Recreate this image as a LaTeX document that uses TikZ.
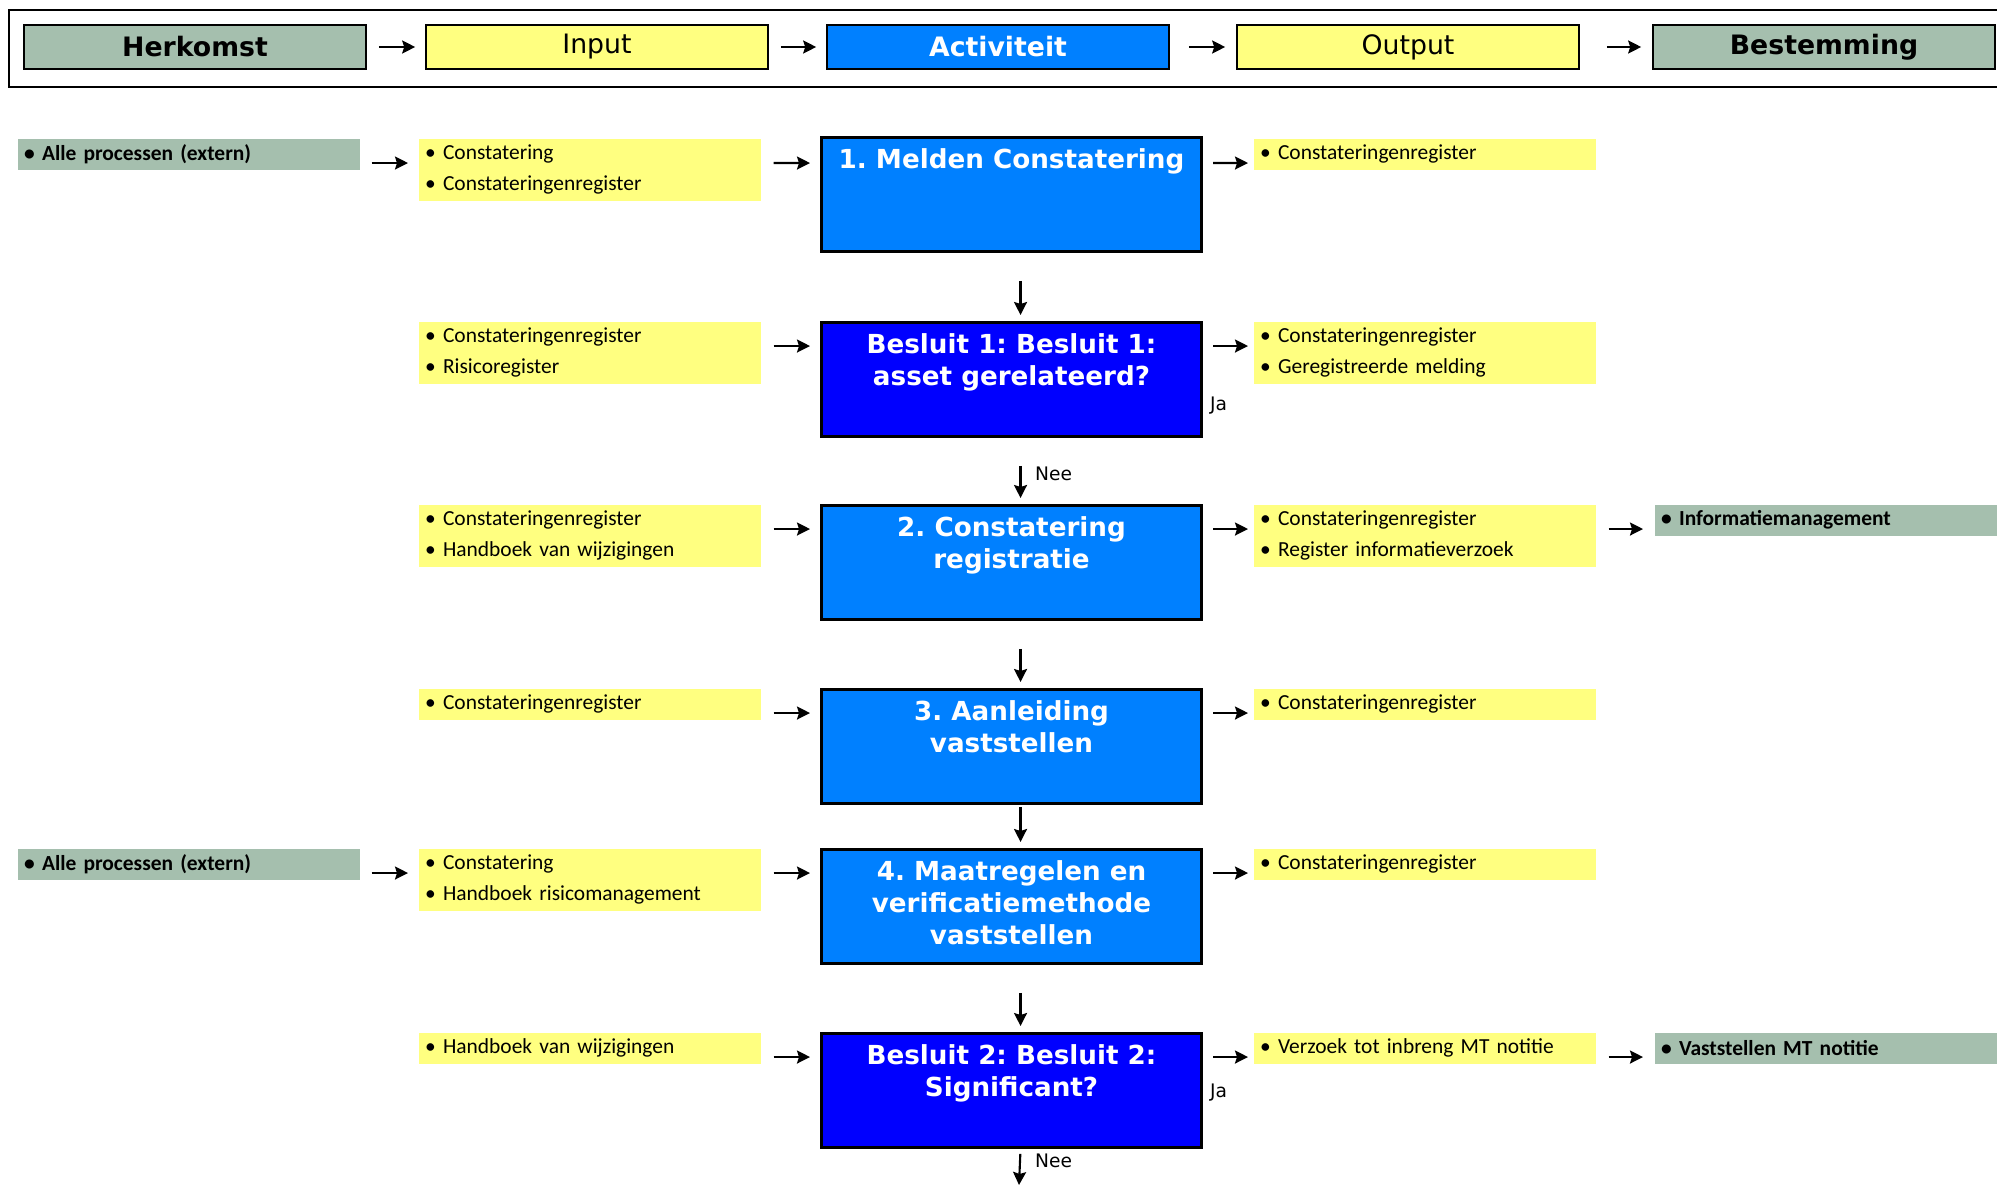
\documentclass[tikz,border=0pt]{standalone}
\usepackage{fontspec}
\setmainfont{DejaVu Sans}
\newfontfamily\carlito{Carlito}
\usetikzlibrary{arrows.meta}

\definecolor{grijs}{HTML}{A5BFAE}
\definecolor{geel}{HTML}{FFFF80}
\definecolor{lichtblauw}{HTML}{0080FF}
\definecolor{donkerblauw}{HTML}{0000FF}

\frenchspacing

\begin{document}
\begin{tikzpicture}[x=0.01cm, y=-0.01cm,
        flow/.style={-{Stealth[length=1.3mm, width=1.3mm, inset=0.2mm]}, line width=0.6pt},
        down/.style={flow, shorten <=0.28cm, shorten >=0.06cm},
        head/.style={draw=black, line width=0.4pt, minimum width=3.42cm, minimum height=0.44cm, inner sep=0pt, font=\fontsize{7.6}{9}\selectfont},
        headbold/.style={head, font=\bfseries\fontsize{7.6}{9}\selectfont},
        doc/.style={fill=geel, anchor=north west, minimum height=0.31cm, text width=3.29cm, inner xsep=0.065cm, inner ysep=0pt, align=left, font=\carlito\fontsize{6.1}{8.7}\selectfont},
        docbold/.style={doc, fill=grijs, font=\carlito\bfseries\fontsize{6.1}{8.7}\selectfont},
        act/.style={draw=black, line width=0.8pt, anchor=north west, minimum width=3.8cm, minimum height=1.14cm, inner sep=0pt},
        acttxt/.style={anchor=north, inner sep=3.5pt, align=center, text=white, font=\bfseries\fontsize{7.45}{9.1}\selectfont},
        tag/.style={inner sep=1pt, font=\fontsize{5.3}{6}\selectfont}]
    \useasboundingbox (0,0) rectangle (1997,1185);

    % kopregel
    \draw[line width=0.4pt] (1997,10) -- (9,10) -- (9,87) -- (1997,87);
    \node[headbold, fill=grijs] (hHerkomst) at (195,47) {Herkomst};
    \node[head, fill=geel] (hInput) at (597,47) {Input};
    \node[headbold, fill=lichtblauw, text=white] (hActiviteit) at (998,47) {Activiteit};
    \node[head, fill=geel] (hOutput) at (1408,47) {Output};
    \node[headbold, fill=grijs] (hBestemming) at (1824,47) {Bestemming};
    \path[flow]
        (hHerkomst) edge[shorten <=0.12cm, shorten >=0.1cm] (hInput)
        (hInput) edge[shorten <=0.12cm, shorten >=0.1cm] (hActiviteit)
        (hActiviteit) edge[shorten <=0.19cm, shorten >=0.11cm] (hOutput)
        (hOutput) edge[shorten <=0.27cm, shorten >=0.11cm] (hBestemming)
    ;

    % stap 1
    \node[docbold] (h1) at (17,138) {• Alle processen (extern)};
    \node[doc, minimum height=0.62cm] (i1) at (418,138) {• Constatering\\• Constateringenregister};
    \node[act, fill=lichtblauw] (a1) at (820,136) {};
    \node[acttxt] (t1) at (a1.north) {1. Melden Constatering};
    \node[doc] (o1) at (1253,138) {• Constateringenregister};

    % besluit 1
    \node[doc, minimum height=0.62cm] (i2) at (418,321) {• Constateringenregister\\• Risicoregister};
    \node[act, fill=donkerblauw] (a2) at (820,321) {};
    \node[acttxt] (t2) at (a2.north) {Besluit 1: Besluit 1:\\asset gerelateerd?};
    \node[doc, minimum height=0.62cm] (o2) at (1253,321) {• Constateringenregister\\• Geregistreerde melding};
    \node[tag, anchor=west] (ja1) at (1206,406) {Ja};
    \node[tag, anchor=west] (nee1) at (1031,474) {Nee};

    % stap 2
    \node[doc, minimum height=0.62cm] (i3) at (418,504) {• Constateringenregister\\• Handboek van wijzigingen};
    \node[act, fill=lichtblauw] (a3) at (820,504) {};
    \node[acttxt] (t3) at (a3.north) {2. Constatering\\registratie};
    \node[doc, minimum height=0.62cm] (o3) at (1253,504) {• Constateringenregister\\• Register informatieverzoek};
    \node[docbold] (d3) at (1654,504) {• Informatiemanagement};

    % stap 3
    \node[doc] (i4) at (418,688) {• Constateringenregister};
    \node[act, fill=lichtblauw] (a4) at (820,688) {};
    \node[acttxt] (t4) at (a4.north) {3. Aanleiding\\vaststellen};
    \node[doc] (o4) at (1253,688) {• Constateringenregister};

    % stap 4
    \node[docbold] (h5) at (17,848) {• Alle processen (extern)};
    \node[doc, minimum height=0.62cm] (i5) at (418,848) {• Constatering\\• Handboek risicomanagement};
    \node[act, fill=lichtblauw] (a5) at (820,848) {};
    \node[acttxt] (t5) at (a5.north) {4. Maatregelen en\\verificatiemethode\\vaststellen};
    \node[doc] (o5) at (1253,848) {• Constateringenregister};

    % besluit 2
    \node[doc] (i6) at (418,1032) {• Handboek van wijzigingen};
    \node[act, fill=donkerblauw] (a6) at (820,1032) {};
    \node[acttxt] (t6) at (a6.north) {Besluit 2: Besluit 2:\\Significant?};
    \node[doc] (o6) at (1253,1032) {• Verzoek tot inbreng MT notitie};
    \node[docbold] (d6) at (1654,1032) {• Vaststellen MT notitie};
    \node[tag, anchor=west] (ja2) at (1206,1093) {Ja};
    \node[tag, anchor=west] (nee2) at (1031,1161) {Nee};
    \coordinate (eind) at (1019,1185);

    % pijlen naar rechts
    \path[flow]
        ([yshift=-0.25cm]h1.north east) edge[shorten <=0.11cm, shorten >=0.1cm] ([yshift=-0.25cm]i1.north west)
        ([yshift=-0.25cm]h5.north east) edge[shorten <=0.11cm, shorten >=0.1cm] ([yshift=-0.25cm]i5.north west)
        ([yshift=-0.25cm]i1.north east) edge[shorten <=0.12cm, shorten >=0.1cm] ([yshift=-0.27cm]a1.north west)
        ([yshift=-0.25cm]i2.north east) edge[shorten <=0.12cm, shorten >=0.1cm] ([yshift=-0.25cm]a2.north west)
        ([yshift=-0.25cm]i3.north east) edge[shorten <=0.12cm, shorten >=0.1cm] ([yshift=-0.25cm]a3.north west)
        ([yshift=-0.25cm]i4.north east) edge[shorten <=0.12cm, shorten >=0.1cm] ([yshift=-0.25cm]a4.north west)
        ([yshift=-0.25cm]i5.north east) edge[shorten <=0.12cm, shorten >=0.1cm] ([yshift=-0.25cm]a5.north west)
        ([yshift=-0.25cm]i6.north east) edge[shorten <=0.12cm, shorten >=0.1cm] ([yshift=-0.25cm]a6.north west)
        ([yshift=-0.27cm]a1.north east) edge[shorten <=0.1cm, shorten >=0.05cm] ([yshift=-0.25cm]o1.north west)
        ([yshift=-0.25cm]a2.north east) edge[shorten <=0.1cm, shorten >=0.05cm] ([yshift=-0.25cm]o2.north west)
        ([yshift=-0.25cm]a3.north east) edge[shorten <=0.1cm, shorten >=0.05cm] ([yshift=-0.25cm]o3.north west)
        ([yshift=-0.25cm]a4.north east) edge[shorten <=0.1cm, shorten >=0.05cm] ([yshift=-0.25cm]o4.north west)
        ([yshift=-0.25cm]a5.north east) edge[shorten <=0.1cm, shorten >=0.05cm] ([yshift=-0.25cm]o5.north west)
        ([yshift=-0.25cm]a6.north east) edge[shorten <=0.1cm, shorten >=0.05cm] ([yshift=-0.25cm]o6.north west)
        ([yshift=-0.25cm]o3.north east) edge[shorten <=0.12cm, shorten >=0.11cm] ([yshift=-0.25cm]d3.north west)
        ([yshift=-0.25cm]o6.north east) edge[shorten <=0.12cm, shorten >=0.11cm] ([yshift=-0.25cm]d6.north west)
    ;

    % pijlen naar beneden
    \path[down]
        ([xshift=0.09cm]a1.south) edge ([xshift=0.09cm]a2.north)
        ([xshift=0.09cm]a2.south) edge ([xshift=0.09cm]a3.north)
        ([xshift=0.09cm]a3.south) edge ([xshift=0.09cm]a4.north)
        ([xshift=0.09cm]a4.south) edge[shorten <=0.02cm] ([xshift=0.09cm]a5.north)
        ([xshift=0.09cm]a5.south) edge ([xshift=0.09cm]a6.north)
        ([xshift=0.09cm]a6.south) edge[shorten <=0.05cm, shorten >=0pt] (eind)
    ;
\end{tikzpicture}
\end{document}
